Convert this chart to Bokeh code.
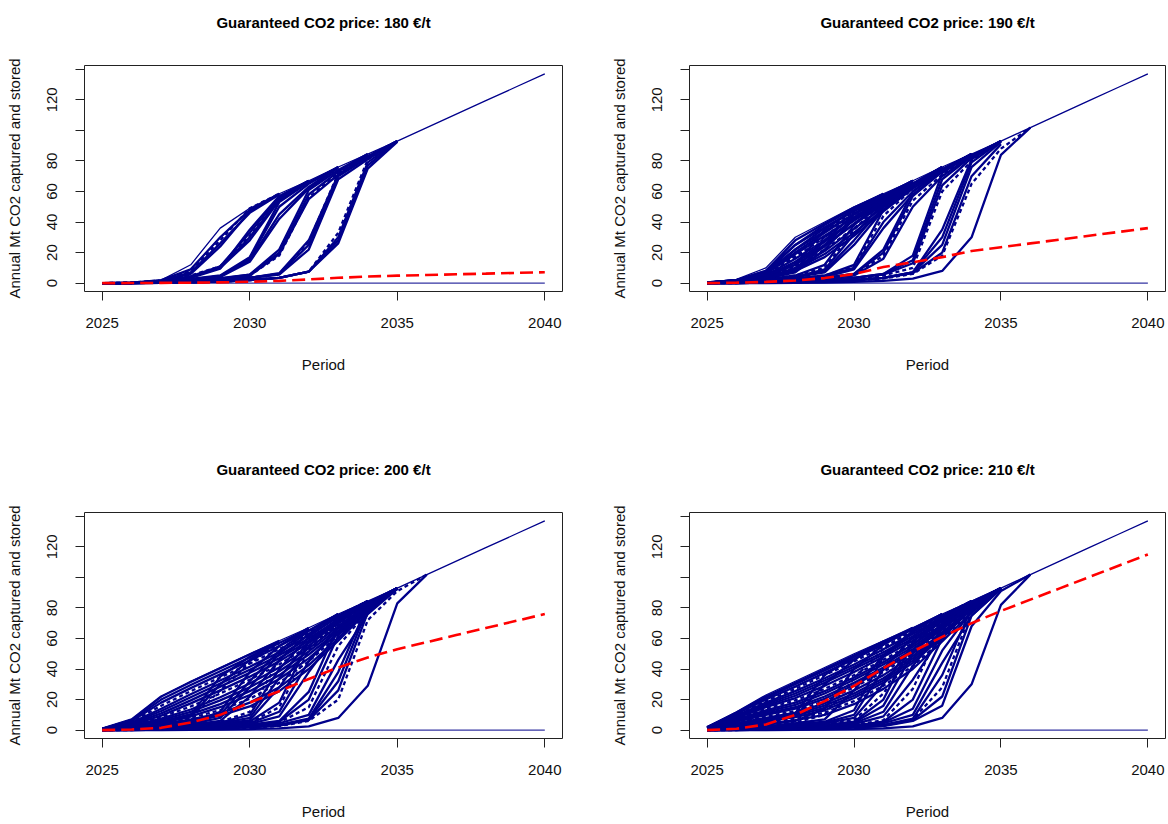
from bokeh.plotting import figure
from bokeh.models import Range1d, FixedTicker, Title
from bokeh.layouts import column, row
from bokeh.embed import file_html
from bokeh.resources import INLINE

# ---------------- data ----------------
YEARS = [2025, 2026, 2027, 2028, 2029, 2030, 2031, 2032,
         2033, 2034, 2035, 2036, 2037, 2038, 2039, 2040]
X_TICKS = [2025, 2030, 2035, 2040]
Y_TICKS = [0, 20, 40, 60, 80, 100, 120, 140]
Y_TICK_LABELS = {0: "0", 20: "20", 40: "40", 60: "60", 80: "80",
                 100: "", 120: "120", 140: ""}
PRICES = [180, 190, 200, 210]

# scenario that never captures anything
ZERO_PATH = [0, 0, 0, 0, 0, 0, 0, 0, 0, 0, 0, 0, 0, 0, 0, 0]

# Each scenario path starts in 2025 and is listed until it merges into the
# common upper path (the first path of every panel runs to 2040).
PATHS_180 = [
    [0, 0.3, 2, 12, 36, 49, 58.5, 67, 76, 84.5, 93, 101.8, 110.6, 119.4, 128.2, 137],
    [0, 0.3, 2, 9, 30, 48, 58.5],
    [0, 0.2, 1.5, 7, 26, 46, 58],
    [0, 0.2, 1.5, 6, 24, 47, 58.5],
    [0, 0.3, 1.8, 8, 28, 49, 58.5],
    [0, 0.2, 1.2, 4, 10, 30, 55, 67],
    [0, 0.2, 1.2, 4.5, 11, 33, 56, 67],
    [0, 0.2, 1, 4, 10, 28, 54, 66.5],
    [0, 0.2, 1, 3.5, 9.5, 35, 57, 67],
    [0, 0.2, 1.3, 5, 11, 31, 55, 67],
    [0, 0.1, 0.8, 2.5, 4.5, 15, 45, 63, 76],
    [0, 0.1, 0.8, 2.5, 4.5, 16, 50, 65, 76],
    [0, 0.1, 0.8, 2.8, 5, 17, 53, 66, 76],
    [0, 0.1, 0.7, 2.2, 4, 14, 42, 62, 75.5],
    [0, 0.1, 0.5, 1.5, 3, 5, 18, 56, 72, 84.5],
    [0, 0.1, 0.5, 1.5, 3, 5.5, 20, 58, 73, 84.5],
    [0, 0.1, 0.5, 1.6, 3.2, 5.5, 22, 61, 74, 84.5],
    [0, 0.1, 0.4, 1.3, 2.8, 4.8, 19, 55, 71, 84],
    [0, 0.1, 0.3, 1, 2, 3.5, 6, 25, 70, 82, 93],
    [0, 0.1, 0.3, 1, 2, 3.5, 6, 27, 72, 83, 93],
    [0, 0.1, 0.3, 1, 2, 3.4, 5.5, 22, 68, 81, 93],
    [0, 0.1, 0.3, 1, 2, 3.5, 6.5, 28, 71, 83, 93],
    [0, 0.1, 0.2, 0.5, 1, 2, 3.5, 7.5, 28, 77, 93],
    [0, 0.1, 0.2, 0.5, 1, 2, 3.5, 7.5, 30, 79, 93],
    [0, 0.1, 0.2, 0.5, 1, 2, 3.5, 7.5, 33, 81, 93],
    [0, 0.1, 0.2, 0.5, 1, 2, 3.5, 7.5, 26, 75, 92.5],
]

PATHS_190 = [
    [0.5, 2.5, 10, 30, 40, 50, 58.5, 67, 76, 84.5, 93, 101.8, 110.6, 119.4, 128.2, 137],
    [0.4, 2, 8, 28, 39, 49.5, 58.5],
    [0.3, 2, 7, 25, 38, 49, 58.5],
    [0.3, 1.8, 6, 22, 36, 48, 58],
    [0.3, 1.5, 5, 18, 34, 47, 58],
    [0.4, 2, 8, 25, 36.5, 47, 57.5, 67],
    [0.3, 1.8, 7, 22, 34, 45, 56, 66.5],
    [0.3, 1.7, 6.5, 20, 33, 45.5, 57, 67],
    [0.3, 1.6, 6, 19, 31, 43, 54.5, 66],
    [0.2, 1.4, 5.5, 17, 30, 43.5, 55.5, 66.5],
    [0.3, 1.5, 5, 16, 28, 41, 53, 65, 76],
    [0.2, 1.2, 4.5, 14, 27, 41.5, 54, 66],
    [0.2, 1.3, 4.5, 13.5, 25, 38.5, 51.5, 64, 75.5],
    [0.2, 1.1, 4, 12, 24, 39, 52.5, 65, 76],
    [0.2, 1.2, 4, 11, 22, 36, 50, 63, 75],
    [0.2, 1, 3.5, 10, 21, 35.5, 50, 63.5, 75.5],
    [0.2, 1, 3.5, 9, 19, 33, 48, 62, 74.5, 84.5],
    [0.1, 0.9, 3, 8, 17, 31, 47, 62, 74.5, 84.5],
    [0.2, 1.5, 5, 12, 35, 48, 58],
    [0.2, 1.2, 4, 10, 30, 46, 57.5],
    [0.2, 1.2, 4, 9, 28, 45, 57],
    [0.2, 1, 3.5, 8, 25, 43, 56, 67],
    [0.2, 1, 3, 7, 22, 42, 56, 67],
    [0.1, 0.8, 2.5, 5, 12, 38, 55, 67],
    [0.1, 0.8, 2.5, 5, 10, 35, 54, 66.5],
    [0.1, 0.7, 2, 4, 9, 32, 52, 66],
    [0.1, 0.7, 2, 4, 8, 28, 50, 65, 76],
    [0.1, 0.6, 2, 4, 7, 25, 48, 64, 76],
    [0.1, 0.5, 1.5, 3, 5, 12, 48, 64, 76],
    [0.1, 0.5, 1.5, 3, 5, 11, 44, 62, 75],
    [0.1, 0.5, 1.5, 3, 4.5, 10, 40, 60, 74, 84.5],
    [0.1, 0.4, 1.2, 2.5, 4, 9, 36, 58, 73, 84.5],
    [0.1, 0.3, 1, 2, 3.5, 6, 22, 60, 74, 84.5],
    [0.1, 0.3, 1, 2, 3.5, 6, 20, 57, 73, 84.5],
    [0.1, 0.3, 1, 2, 3, 5.5, 18, 54, 71, 84],
    [0.1, 0.3, 0.8, 1.8, 3, 5, 16, 50, 70, 83.5, 93],
    [0.1, 0.2, 0.5, 1.2, 2, 3.5, 6, 18, 72, 84.5],
    [0.1, 0.2, 0.5, 1.2, 2, 3.5, 6, 15, 68, 83, 93],
    [0.1, 0.2, 0.5, 1.2, 2, 3.5, 5.5, 13, 64, 82, 93],
    [0.1, 0.2, 0.5, 1, 2, 3, 5, 10, 60, 80, 93],
    [0, 0.1, 0.3, 0.6, 1.2, 2, 3.5, 7, 35, 81, 93],
    [0, 0.1, 0.3, 0.6, 1.2, 2, 3.5, 7, 30, 79, 93],
    [0, 0.1, 0.3, 0.6, 1.2, 2, 3.5, 7, 25, 76, 92.5],
    [0, 0.1, 0.3, 0.6, 1.2, 2, 3.5, 6.5, 20, 70, 91],
    [0, 0.1, 0.2, 0.5, 1, 1.8, 3, 6, 18, 65, 88, 101.8],
    [0, 0, 0.1, 0.2, 0.4, 0.8, 1.5, 3, 8, 30, 84, 101.8],
]

PATHS_200 = [
    [1, 7, 22, 32, 41, 50, 58.5, 67, 76, 84.5, 93, 101.8, 110.6, 119.4, 128.2, 137],
    [1, 7, 22, 31.5, 40.5, 49.5, 58.5],
    [0.9, 6.5, 20, 29.5, 38.5, 47.5, 57, 66.5],
    [0.9, 6, 18, 27.5, 36.5, 45.5, 55, 65, 76],
    [0.8, 5.5, 16, 25.5, 34.5, 43.5, 53, 63.5, 75, 84.5],
    [0.8, 5, 14, 23.5, 32.5, 41.5, 51, 62, 74, 84.5],
    [0.7, 4.5, 12.5, 21.5, 30.5, 39.5, 49, 60, 72.5, 84.5],
    [0.6, 4, 11, 19.5, 28.5, 37.5, 47, 58.5, 71, 84],
    [0.6, 3.5, 9.5, 17.5, 26, 35, 45, 57, 70, 83.5, 93],
    [0.5, 3, 8.5, 15.5, 24, 33, 43, 55, 69, 83, 93],
    [0.5, 2.8, 7.5, 13.5, 21.5, 30.5, 41, 53.5, 68, 82, 93],
    [0.4, 2.5, 6.5, 12, 19.5, 28, 38.5, 51.5, 66.5, 81.5, 93],
    [0.4, 2.2, 5.5, 10.5, 17, 25.5, 36, 49.5, 65, 81, 93],
    [0.3, 2, 5, 9, 15, 23, 33.5, 47, 63.5, 80, 93],
    [0.3, 1.8, 4.5, 8, 13, 20.5, 31, 45, 62, 79.5, 93],
    [0.3, 1.6, 4, 7, 11, 18, 28, 42.5, 60, 79, 92.5],
    [0.2, 1.4, 3.5, 6, 9.5, 15.5, 25.5, 40, 58.5, 78, 92.5],
    [0.3, 2, 5, 10, 35, 48, 58],
    [0.3, 2, 4.5, 9, 30, 46, 57.5],
    [0.2, 1.5, 4, 8, 26, 44, 57],
    [0.2, 1.2, 3, 5, 12, 38, 55, 67],
    [0.2, 1, 2.5, 4.5, 10, 32, 52, 66],
    [0.2, 1, 2.5, 4, 8, 28, 50, 65, 76],
    [0.1, 0.8, 2, 3.5, 6, 22, 46, 63, 76],
    [0.1, 0.8, 2, 3.5, 5.5, 12, 46, 64, 76],
    [0.1, 0.7, 1.8, 3, 5, 10, 40, 61, 75, 84.5],
    [0.1, 0.6, 1.5, 2.8, 4.5, 8, 34, 58, 73, 84.5],
    [0.1, 0.5, 1.3, 2.5, 4, 6.5, 28, 55, 72, 84.5],
    [0.1, 0.5, 1.2, 2.2, 3.5, 5.5, 18, 58, 73, 84.5],
    [0.1, 0.4, 1, 2, 3.2, 5, 15, 52, 70, 84],
    [0.1, 0.4, 1, 1.8, 3, 4.5, 12, 45, 67, 83, 93],
    [0.1, 0.3, 0.8, 1.5, 2.5, 4, 9, 38, 64, 82, 93],
    [0, 0.3, 0.7, 1.3, 2.2, 3.5, 6, 25, 68, 82, 93],
    [0, 0.3, 0.6, 1.2, 2, 3, 5.5, 20, 62, 80, 93],
    [0, 0.2, 0.5, 1, 1.8, 2.8, 5, 15, 55, 78, 93],
    [0, 0.2, 0.5, 1, 1.6, 2.5, 4.5, 10, 46, 76, 92.5],
    [0, 0.2, 0.4, 0.8, 1.4, 2.2, 3.5, 7.5, 38, 82, 93],
    [0, 0.1, 0.4, 0.8, 1.3, 2, 3.2, 7, 32, 80, 93],
    [0, 0.1, 0.3, 0.7, 1.2, 1.8, 3, 6.5, 26, 77, 92.5],
    [0, 0.1, 0.3, 0.6, 1, 1.6, 2.7, 6, 20, 72, 91, 101.8],
    [0, 0, 0.1, 0.2, 0.4, 0.7, 1.2, 2.5, 8, 29, 83, 101.8],
]

PATHS_210 = [
    [2, 12, 23, 32, 41, 50, 58.5, 67, 76, 84.5, 93, 101.8, 110.6, 119.4, 128.2, 137],
    [2, 11.5, 22, 31, 40, 49, 58, 67],
    [1.9, 11, 21, 30, 39, 48, 57, 66.5, 76],
    [1.8, 10.5, 20, 28.5, 37.5, 46.5, 56, 66, 76],
    [1.7, 10, 19, 27, 36, 45, 54.5, 64.5, 75, 84.5],
    [1.6, 9.5, 18, 25.5, 34, 43, 53, 63, 74, 84.5],
    [1.5, 9, 17, 24, 32.5, 41.5, 51, 61.5, 73, 84.5],
    [1.4, 8.5, 16, 22.5, 31, 40, 49.5, 60, 72, 84],
    [1.3, 8, 15, 21, 29, 38, 48, 58.5, 71, 84, 93],
    [1.2, 7.5, 14, 19.5, 27, 36, 46, 57, 70, 83, 93],
    [1.1, 7, 13, 18, 25.5, 34.5, 44.5, 56, 69, 83, 93],
    [1, 6.5, 12, 16.5, 24, 33, 43, 54.5, 68, 82, 93],
    [1, 6, 11, 15, 22, 31, 41, 53, 67, 82, 93],
    [0.9, 5.5, 10, 14, 20.5, 29.5, 39.5, 51.5, 66, 81, 93],
    [0.8, 5, 9, 12.5, 19, 28, 38, 50, 65, 81, 93],
    [0.8, 4.5, 8, 11.5, 17.5, 26, 36, 48.5, 64, 80, 93],
    [0.7, 4, 7, 10.5, 16, 24, 34, 47, 63, 80, 93],
    [0.6, 3.5, 6.5, 9.5, 14.5, 22.5, 32.5, 45.5, 62, 79, 93],
    [0.6, 3, 6, 8.5, 13, 21, 31, 44, 61, 79, 93],
    [0.5, 2.5, 5, 7.5, 11.5, 19, 29, 42, 59, 78, 92.5],
    [0.4, 2, 4, 6.5, 10, 17, 27, 40, 58, 77, 92.5],
    [0.5, 2.5, 6, 11, 36, 48, 58],
    [0.4, 2, 5, 9, 30, 46, 57.5],
    [0.3, 1.5, 3.5, 6, 14, 40, 56, 67],
    [0.3, 1.2, 3, 5, 10, 34, 53, 66],
    [0.2, 1, 2.5, 4.5, 7, 26, 49, 65, 76],
    [0.2, 1, 2.2, 3.8, 5.5, 13, 48, 64, 76],
    [0.2, 0.8, 2, 3.3, 5, 10, 40, 61, 75, 84.5],
    [0.1, 0.7, 1.7, 3, 4.5, 8, 30, 56, 72, 84.5],
    [0.1, 0.6, 1.5, 2.6, 4, 6.5, 24, 52, 70, 84],
    [0.1, 0.5, 1.3, 2.3, 3.5, 5.5, 20, 58, 73, 84.5],
    [0.1, 0.5, 1.2, 2, 3.2, 5, 16, 50, 70, 84],
    [0.1, 0.4, 1, 1.8, 3, 4.5, 12, 42, 66, 83, 93],
    [0.1, 0.3, 0.8, 1.5, 2.5, 4, 9, 33, 62, 81, 93],
    [0, 0.3, 0.7, 1.3, 2.2, 3.5, 6.5, 27, 68, 82, 93],
    [0, 0.3, 0.6, 1.2, 2, 3, 5.5, 20, 60, 80, 93],
    [0, 0.2, 0.5, 1, 1.8, 2.8, 5, 14, 52, 78, 93],
    [0, 0.2, 0.5, 1, 1.6, 2.5, 4.5, 10, 44, 75, 92.5],
    [0, 0.2, 0.4, 0.8, 1.4, 2.2, 3.5, 7.5, 36, 80, 93],
    [0, 0.1, 0.4, 0.8, 1.3, 2, 3.2, 7, 28, 78, 93],
    [0, 0.1, 0.3, 0.7, 1.2, 1.8, 3, 6.5, 22, 75, 92.5],
    [0, 0.1, 0.3, 0.6, 1, 1.6, 2.7, 6, 16, 68, 91, 101.8],
    [0, 0, 0.1, 0.2, 0.4, 0.7, 1.2, 2.5, 8, 30, 82, 101.8],
]

# probability-weighted mean path (red dashed)
MEAN_180 = [0, 0.05, 0.15, 0.3, 0.5, 0.9, 1.5, 2.4, 3.5, 4.3, 4.9, 5.3, 5.8, 6.2, 6.7, 7.1]
MEAN_190 = [0, 0.3, 0.8, 1.7, 3.3, 6, 10.5, 13.7, 17, 21, 23.5, 26, 28.5, 31, 33.5, 36]
MEAN_200 = [0, 0.4, 1.5, 5, 10, 18, 25.5, 33.5, 41, 47.5, 53, 57.6, 62.2, 66.8, 71.4, 76]
MEAN_210 = [0, 0.9, 3.7, 10, 19, 29, 40.5, 51.5, 61, 70, 78, 85.4, 92.8, 100.2, 107.6, 115]

# ---------------- drawing ----------------
FONT = "Liberation Sans"
BLUE = "#00008B"
RED = "#FF0000"
DASH_CYCLE = ["solid", "solid", "solid", "solid", "4 3"]


def panel(price, paths, mean, width, height, bl, br, bt, bb):
    p = figure(width=width, height=height, title=None,
               x_range=Range1d(2024.4, 2040.6), y_range=Range1d(-5.48, 142.45),
               output_backend="svg", toolbar_location=None,
               min_border_left=bl, min_border_right=br,
               min_border_top=bt, min_border_bottom=bb,
               background_fill_color="white", border_fill_color="white")
    # spacer between frame and title, then the title itself
    p.add_layout(Title(text=" ", text_font=FONT, text_font_size="14px",
                       standoff=12), "above")
    p.add_layout(Title(text=f"Guaranteed CO2 price: {price} €/t", align="center",
                       text_font=FONT, text_font_style="bold",
                       text_font_size="15px", text_color="black",
                       standoff=10), "above")

    p.xgrid.visible = False
    p.ygrid.visible = False
    p.outline_line_color = "#222222"
    p.outline_line_width = 1

    for ax in (p.xaxis[0], p.yaxis[0]):
        ax.axis_line_color = None
        ax.major_tick_out = 9
        ax.major_tick_in = 0
        ax.minor_tick_line_color = None
        ax.major_tick_line_color = "#222222"
        ax.major_label_text_font = FONT
        ax.major_label_text_font_size = "15px"
        ax.major_label_text_color = "#111111"
        ax.axis_label_text_font = FONT
        ax.axis_label_text_font_size = "15px"
        ax.axis_label_text_font_style = "normal"
        ax.axis_label_text_color = "#111111"

    p.xaxis.ticker = FixedTicker(ticks=X_TICKS)
    p.xaxis.major_label_standoff = 17
    p.xaxis.axis_label = "Period"
    p.xaxis.axis_label_standoff = 25

    p.yaxis.ticker = FixedTicker(ticks=Y_TICKS)
    p.yaxis.major_label_overrides = Y_TICK_LABELS
    p.yaxis.major_label_orientation = "vertical"
    p.yaxis.major_label_standoff = 18
    p.yaxis.axis_label = "Annual Mt CO2 captured and stored"
    p.yaxis.axis_label_standoff = 22

    for i, path in enumerate(paths):
        p.line(YEARS[:len(path)], path, line_color=BLUE,
               line_width=1.3 if i == 0 else 2.3,
               line_dash=DASH_CYCLE[i % len(DASH_CYCLE)])
    p.line(YEARS, ZERO_PATH, line_color=BLUE, line_width=1.2, line_alpha=0.8)
    p.line(YEARS, mean, line_color=RED, line_width=2.6, line_dash="13 6")
    return p


p1 = panel(PRICES[0], PATHS_180, MEAN_180, 605, 447, 84, 43, 65, 156)
p2 = panel(PRICES[1], PATHS_190, MEAN_190, 562, 447, 84, 2, 65, 156)
p3 = panel(PRICES[2], PATHS_200, MEAN_200, 605, 376, 84, 43, 65, 85)
p4 = panel(PRICES[3], PATHS_210, MEAN_210, 562, 376, 84, 2, 65, 85)

layout = column(row(p1, p2), row(p3, p4))

with open("out.html", "w") as f:
    f.write(file_html(layout, INLINE))
